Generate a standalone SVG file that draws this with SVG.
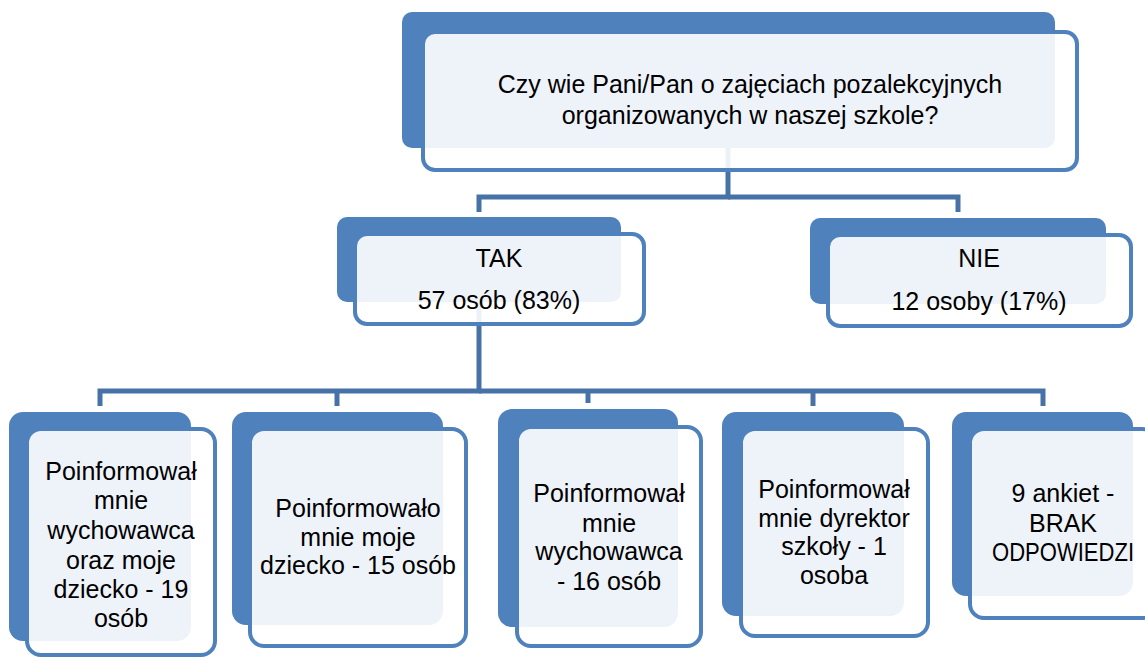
<svg xmlns="http://www.w3.org/2000/svg" width="1145" height="658" viewBox="0 0 1145 658">
<style>
.back{fill:#4F81BD;}
.front{fill:#FFFFFF;fill-opacity:0.9;stroke:#4F81BD;stroke-width:4;}
.conn{fill:none;stroke:#4672A8;stroke-width:5;}
text{font-family:"Liberation Sans",Arial,sans-serif;font-size:25px;fill:#000;text-anchor:middle;}
</style>
<rect width="1145" height="658" fill="#FFFFFF"/>
<g id="connectors">
<path class="conn" d="M728,148 V197 H479 V212"/>
<path class="conn" d="M728,197 H958 V212"/>
<path class="conn" d="M479,302 V391 H100 V406"/>
<path class="conn" d="M337,391 V406"/>
<path class="conn" d="M479,391 H1043 V406"/>
<path class="conn" d="M588,391 V403"/>
<path class="conn" d="M813,391 V406"/>
</g>
<g id="node-question">
<rect class="back" x="402" y="12" width="653" height="136" rx="10"/>
<rect class="front" x="423" y="32" width="654" height="138" rx="12"/>
<text x="750" y="93">Czy wie Pani/Pan o zajęciach pozalekcyjnych</text>
<text x="750" y="124">organizowanych w naszej szkole?</text>
</g>
<g id="node-tak">
<rect class="back" x="337" y="217" width="284" height="85" rx="10"/>
<rect class="front" x="355" y="234" width="289" height="90" rx="12"/>
<text x="499" y="267">TAK</text>
<text x="499" y="309">57 osób (83%)</text>
</g>
<g id="node-nie">
<rect class="back" x="810" y="218" width="296" height="86" rx="10"/>
<rect class="front" x="828" y="235" width="303" height="91" rx="12"/>
<text x="979" y="267">NIE</text>
<text x="979" y="310">12 osoby (17%)</text>
</g>
<g id="node-b1">
<rect class="back" x="9" y="412" width="182" height="229" rx="14"/>
<rect class="front" x="27" y="429" width="188" height="226" rx="14"/>
<text x="121" y="480">Poinformował</text>
<text x="121" y="509">mnie</text>
<text x="121" y="539">wychowawca</text>
<text x="121" y="569">oraz moje</text>
<text x="121" y="598">dziecko - 19</text>
<text x="121" y="627">osób</text>
</g>
<g id="node-b2">
<rect class="back" x="232" y="412" width="211" height="213" rx="14"/>
<rect class="front" x="250" y="429" width="216" height="217" rx="14"/>
<text x="358" y="517">Poinformowało</text>
<text x="358" y="546">mnie moje</text>
<text x="358" y="574">dziecko - 15 osób</text>
</g>
<g id="node-b3">
<rect class="back" x="498" y="409" width="180" height="218" rx="14"/>
<rect class="front" x="517" y="427" width="184" height="219" rx="14"/>
<text x="609" y="502">Poinformował</text>
<text x="609" y="532">mnie</text>
<text x="609" y="560">wychowawca</text>
<text x="609" y="590">- 16 osób</text>
</g>
<g id="node-b4">
<rect class="back" x="722" y="412" width="182" height="204" rx="14"/>
<rect class="front" x="741" y="429" width="187" height="207" rx="14"/>
<text x="834" y="498">Poinformował</text>
<text x="834" y="527">mnie dyrektor</text>
<text x="834" y="555">szkoły - 1</text>
<text x="834" y="584">osoba</text>
</g>
<g id="node-b5">
<rect class="back" x="952" y="412" width="181" height="184" rx="14"/>
<rect class="front" x="970" y="429" width="186" height="189" rx="14"/>
<text x="1063" y="502">9 ankiet -</text>
<text x="1063" y="532">BRAK</text>
<text x="1063" y="561" textLength="142" lengthAdjust="spacingAndGlyphs">ODPOWIEDZI</text>
</g>
</svg>
